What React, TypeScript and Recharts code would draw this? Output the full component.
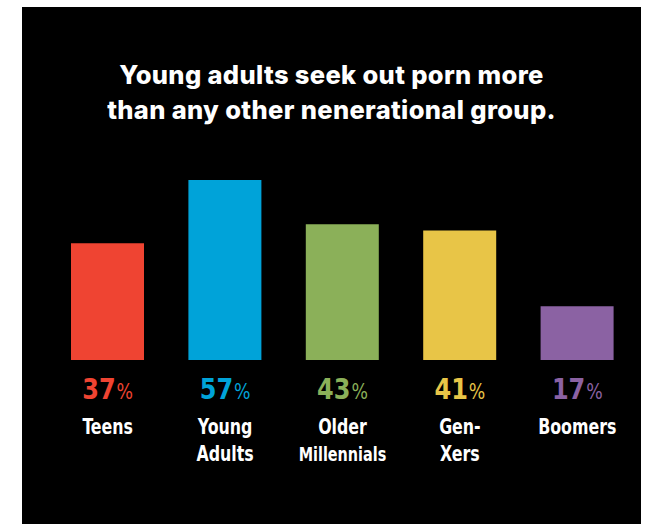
import { BarChart, Bar, XAxis, YAxis, Cell } from "recharts";

const groups = ["Teens", "Young Adults", "Older Millennials", "Gen-Xers", "Boomers"];
const shares = [37, 57, 43, 41, 17];
const labelLines = [["Teens"], ["Young", "Adults"], ["Older", "Millennials"], ["Gen-", "Xers"], ["Boomers"]];
const titleLines = ["Young adults seek out porn more", "than any other nenerational group."];

const GROUP_COLORS = ["#ef4432", "#00a3d9", "#8bb059", "#e8c547", "#8b62a3"];

const data = groups.map((name, i) => ({ name, value: shares[i] }));

const COND_FONT = "'DejaVu Sans Condensed', 'DejaVu Sans', sans-serif";

// eslint-disable-next-line @typescript-eslint/no-explicit-any
function GroupTick(props: any) {
  const { x, y, payload } = props;
  const i = groups.indexOf(payload.value);
  const lines = labelLines[i] || [payload.value];
  return (
    <g>
      <g transform={`translate(${x},${y}) scale(0.92,1)`}>
        <text x={0} y={39} textAnchor="middle" fill={GROUP_COLORS[i]} fontFamily={COND_FONT}>
          <tspan fontSize={29} fontWeight="bold">{shares[i]}</tspan>
          <tspan fontSize={21} dx={1}>%</tspan>
        </text>
      </g>
      <g transform={`translate(${x},${y}) scale(0.8,1)`}>
        {lines.map((line, k) => (
          <text
            key={line}
            x={0}
            y={74 + k * 27}
            textAnchor="middle"
            fill="#ffffff"
            fontFamily={COND_FONT}
            fontWeight="bold"
            fontSize={line === "Millennials" ? 20 : 22}
          >
            {line}
          </text>
        ))}
      </g>
    </g>
  );
}

export default function App() {
  return (
    <div style={{ position: "absolute", left: 0, top: 0, width: 662, height: 524, background: "#fff" }}>
      <div style={{ position: "absolute", left: 22, top: 7, width: 619, height: 517, background: "#000" }}>
        <div
          style={{
            position: "absolute",
            left: 0,
            top: 51,
            width: 619,
            textAlign: "center",
            color: "#fff",
            fontFamily: "Inter, sans-serif",
            fontWeight: 800,
            fontSize: 25.5,
            letterSpacing: "0.35px",
            lineHeight: "34.5px",
          }}
        >
          {titleLines.map((t) => (
            <div key={t}>{t}</div>
          ))}
        </div>
        <BarChart
          width={619}
          height={517}
          data={data}
          margin={{ top: 173, right: 5, bottom: 0, left: 27 }}
          style={{ position: "absolute", left: 0, top: 0 }}
        >
          <YAxis hide domain={[0, 57]} />
          <XAxis
            dataKey="name"
            height={164}
            axisLine={false}
            tickLine={false}
            tickSize={0}
            tickMargin={0}
            interval={0}
            tick={<GroupTick />}
          />
          <Bar dataKey="value" barSize={73} isAnimationActive={false}>
            {data.map((d, i) => (
              <Cell key={d.name} fill={GROUP_COLORS[i]} />
            ))}
          </Bar>
        </BarChart>
      </div>
    </div>
  );
}
